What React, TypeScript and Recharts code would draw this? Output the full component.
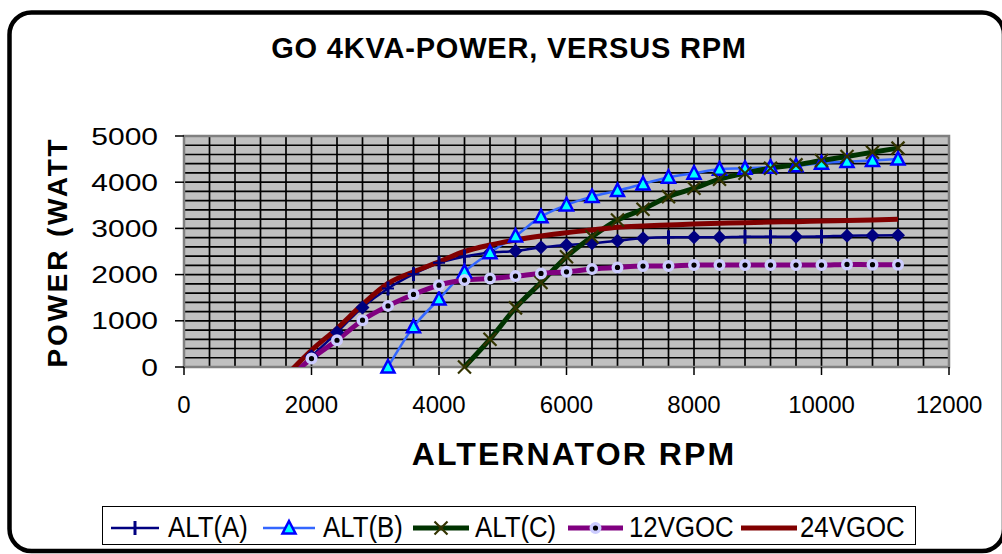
import React from 'react';
import { LineChart, Line, XAxis, YAxis, CartesianGrid, Legend, ReferenceArea } from 'recharts';

// ---- data ----
const rpm = [1600, 2000, 2400, 2800, 3200, 3600, 4000, 4400, 4800, 5200, 5600, 6000, 6400,
  6800, 7200, 7600, 8000, 8400, 8800, 9200, 9600, 10000, 10400, 10800, 11200];

const altA = [null, 230, 750, 1290, 1700, 2010, 2256, 2390, 2480, 2510, 2590, 2640, 2677,
  2733, 2785, 2807, 2810, 2810, 2820, 2820, 2820, 2825, 2842, 2845, 2850];
const altB = [null, null, null, null, 0, 870, 1470, 2060, 2473, 2835, 3254, 3508, 3688,
  3818, 3963, 4108, 4195, 4282, 4300, 4325, 4354, 4412, 4447, 4469, 4500];
const altC = [null, null, null, null, null, null, null, 0, 601, 1280, 1830, 2386, 2820,
  3182, 3414, 3688, 3869, 4065, 4195, 4304, 4375, 4469, 4556, 4650, 4737];
const v12GOC = [-276, 182, 579, 1013, 1323, 1570, 1772, 1881, 1918, 1967, 2026, 2061, 2119,
  2156, 2184, 2184, 2206, 2206, 2206, 2206, 2206, 2206, 2220, 2215, 2215];
const v24GOC = [-190, 362, 833, 1353, 1809, 2061, 2278, 2500, 2640, 2748, 2835, 2907, 2965,
  3023, 3052, 3074, 3096, 3110, 3124, 3139, 3145, 3160, 3170, 3182, 3197];

const seriesNames = ['ALT(A)', 'ALT(B)', 'ALT(C)', '12VGOC', '24VGOC'];
const xTicks = [0, 2000, 4000, 6000, 8000, 10000, 12000];
const yTicks = [0, 1000, 2000, 3000, 4000, 5000];
const titleText = 'GO 4KVA-POWER, VERSUS RPM';
const xTitle = 'ALTERNATOR RPM';
const yTitle = 'POWER (WATT';

// minor grid every 400 rpm / 200 W
const xGrid: number[] = [];
for (let v = 0; v <= 12000; v += 400) xGrid.push(v);
const yGrid: number[] = [];
for (let v = 0; v <= 5000; v += 200) yGrid.push(v);

// rpm points where the ALT(A) marker shows as a diamond instead of a "+"
const ALT_A_DIAMONDS = new Set([2000, 2400, 2800, 4800, 5200, 5600, 6000, 6400, 6800, 7200,
  8000, 8400, 9600, 10400, 10800, 11200]);

const toData = (vals: (number | null)[]) =>
  rpm.map((r, i) => ({ rpm: r, v: vals[i] })).filter((d) => d.v !== null);

const FONT = '"Liberation Sans", Arial, Helvetica, sans-serif';

const C_A = '#000080';
const C_B = '#3366FF';
const C_C = '#003300';
const C_12 = '#800080';
const C_24 = '#800000';

// ---- markers ----
const PlusMark = ({ cx, cy }: { cx: number; cy: number }) => (
  <g>
    <line x1={cx - 6} x2={cx + 6} y1={cy} y2={cy} stroke={C_A} strokeWidth={2} />
    <line x1={cx} x2={cx} y1={cy - 7} y2={cy + 7} stroke={C_A} strokeWidth={3} />
  </g>
);
const DiamondMark = ({ cx, cy }: { cx: number; cy: number }) => (
  <path d={`M${cx},${cy - 7}L${cx + 7},${cy}L${cx},${cy + 7}L${cx - 7},${cy}Z`} fill={C_A} />
);
const TriMark = ({ cx, cy }: { cx: number; cy: number }) => (
  <polygon points={`${cx},${cy - 7} ${cx + 6.5},${cy + 5.5} ${cx - 6.5},${cy + 5.5}`}
    fill="#00FFFF" stroke="#0000FF" strokeWidth={2.5} strokeLinejoin="miter" />
);
const XMark = ({ cx, cy }: { cx: number; cy: number }) => (
  <g stroke="#333300" strokeWidth={2.2}>
    <line x1={cx - 6.5} y1={cy - 6.5} x2={cx + 6.5} y2={cy + 6.5} />
    <line x1={cx - 6.5} y1={cy + 6.5} x2={cx + 6.5} y2={cy - 6.5} />
  </g>
);
const CircMark = ({ cx, cy }: { cx: number; cy: number }) => (
  <circle cx={cx} cy={cy} r={4.3} fill="#000" stroke="#CCCCFF" strokeWidth={3.4} />
);

const dotA = (p: any) => {
  if (p.cx == null || p.cy == null || p.value == null) return <g key={p.key} />;
  return ALT_A_DIAMONDS.has(p.payload.rpm)
    ? <DiamondMark key={p.key} cx={p.cx} cy={p.cy} />
    : <PlusMark key={p.key} cx={p.cx} cy={p.cy} />;
};
const dotB = (p: any) =>
  p.cx == null || p.cy == null ? <g key={p.key} /> : <TriMark key={p.key} cx={p.cx} cy={p.cy} />;
const dotC = (p: any) =>
  p.cx == null || p.cy == null ? <g key={p.key} /> : <XMark key={p.key} cx={p.cx} cy={p.cy} />;
const dot12 = (p: any) =>
  p.cx == null || p.cy == null || p.value < 0 ? <g key={p.key} /> : <CircMark key={p.key} cx={p.cx} cy={p.cy} />;

// ---- ticks ----
const YTick = (p: any) => (
  <text transform={`translate(${p.x},${p.y + 8.5}) scale(1.25,1)`} x={0} y={0}
    textAnchor="end" fontFamily={FONT} fontSize={24} fill="#000">{p.payload.value}</text>
);
const XTick = (p: any) => (
  <text x={p.x} y={p.y} dy={36} textAnchor="middle" fontFamily={FONT} fontSize={24} fill="#000">
    {p.payload.value}
  </text>
);

// ---- legend ----
const legendIcons = [
  { x1: 9, x2: 57, color: C_A, w: 2.5, mark: (cx: number, cy: number) => <PlusMark cx={cx} cy={cy} />, tx: 66 },
  { x1: 161, x2: 213, color: C_B, w: 2.5, mark: (cx: number, cy: number) => <TriMark cx={cx} cy={cy} />, tx: 221 },
  { x1: 311, x2: 367, color: C_C, w: 5, mark: (cx: number, cy: number) => <XMark cx={cx} cy={cy} />, tx: 373 },
  { x1: 466, x2: 521, color: C_12, w: 5, mark: (cx: number, cy: number) => <CircMark cx={cx} cy={cy} />, tx: 527 },
  { x1: 639, x2: 695, color: C_24, w: 5, mark: null, tx: 698 },
];

const renderLegend = () => (
  <svg width={814} height={39} style={{ display: 'block' }}>
    <rect x={0.5} y={0.5} width={813} height={38} fill="#fff" stroke="#000" strokeWidth={1} />
    {legendIcons.map((it, i) => (
      <g key={i}>
        <line x1={it.x1} x2={it.x2} y1={22} y2={22} stroke={it.color} strokeWidth={it.w} />
        {it.mark ? it.mark((it.x1 + it.x2) / 2, 22) : null}
        <text transform={`translate(${it.tx},31) scale(0.86,1)`} x={0} y={0}
          fontFamily={FONT} fontSize={30} fill="#000">{seriesNames[i]}</text>
      </g>
    ))}
  </svg>
);

export default function App() {
  return (
    <div style={{ position: 'absolute', left: 0, top: 0, width: 1002, height: 554, background: '#fff', overflow: 'hidden' }}>
      <svg width={1002} height={554} style={{ position: 'absolute', left: 0, top: 0 }}>
        <rect x={9.5} y={12.5} width={994.5} height={538.5} rx={22} ry={22}
          fill="#fff" stroke="#000" strokeWidth={4.5} />
        <text x={509} y={58} textAnchor="middle" fontFamily={FONT} fontWeight="bold"
          fontSize={29} letterSpacing={0.8} fill="#000">{titleText}</text>
        <text x={574} y={465} textAnchor="middle" fontFamily={FONT} fontWeight="bold"
          fontSize={32} letterSpacing={2.1} fill="#000">{xTitle}</text>
        <text transform="translate(66.5,252) rotate(-90)" x={0} y={0} textAnchor="middle"
          fontFamily={FONT} fontWeight="bold" fontSize={28} letterSpacing={2.8} fill="#000">{yTitle}</text>
      </svg>
      <div style={{ position: 'absolute', left: 0, top: 0 }}>
        <LineChart width={1002} height={554} margin={{ top: 136, right: 53, left: 124, bottom: 157 }}>
          <CartesianGrid fill="#C0C0C0" fillOpacity={1} stroke="#000" strokeWidth={1.7}
            horizontalValues={yGrid} verticalValues={xGrid} />
          <XAxis type="number" dataKey="rpm" domain={[0, 12000]} ticks={xTicks} height={30}
            axisLine={false} tickSize={8} tickLine={{ stroke: '#000', strokeWidth: 1.5 }}
            tick={XTick} interval={0} />
          <YAxis type="number" domain={[0, 5000]} ticks={yTicks} width={60}
            axisLine={false} tickSize={9} tickMargin={17} tickLine={{ stroke: '#000', strokeWidth: 1.5 }}
            tick={YTick} interval={0} />
          <YAxis yAxisId="clip" type="number" domain={[0, 5000]} allowDataOverflow hide />
          <ReferenceArea x1={0} x2={12000} y1={0} y2={5000} fill="none" fillOpacity={0}
            stroke="#808080" strokeWidth={2.5} />
          <Line data={toData(altA)} dataKey="v" name="ALT(A)" type="monotone" stroke={C_A}
            strokeWidth={2.5} dot={dotA} activeDot={false} isAnimationActive={false} />
          <Line data={toData(altB)} dataKey="v" name="ALT(B)" type="monotone" stroke={C_B}
            strokeWidth={2.5} dot={dotB} activeDot={false} isAnimationActive={false} />
          <Line data={toData(altC)} dataKey="v" name="ALT(C)" type="monotone" stroke={C_C}
            strokeWidth={5} dot={dotC} activeDot={false} isAnimationActive={false} />
          <Line yAxisId="clip" data={toData(v12GOC)} dataKey="v" name="12VGOC" type="monotone"
            stroke={C_12} strokeWidth={5} dot={dot12} activeDot={false} isAnimationActive={false} />
          <Line yAxisId="clip" data={toData(v24GOC)} dataKey="v" name="24VGOC" type="monotone"
            stroke={C_24} strokeWidth={5} dot={false} activeDot={false} isAnimationActive={false} />
          <Legend verticalAlign="middle" align="center" layout="horizontal" content={renderLegend}
            wrapperStyle={{ position: 'absolute', left: 102, top: 506, width: 814, height: 39 }} />
        </LineChart>
      </div>
    </div>
  );
}
